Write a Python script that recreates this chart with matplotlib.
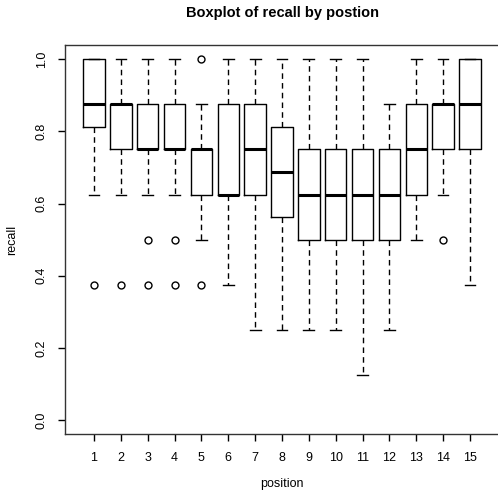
import matplotlib
matplotlib.use("Agg")
import matplotlib.pyplot as plt

plt.rcParams["font.family"] = ["Liberation Sans", "DejaVu Sans"]

positions = list(range(1, 16))
whislo = [0.625, 0.625, 0.625, 0.625, 0.5, 0.375, 0.25, 0.25, 0.25, 0.25, 0.125, 0.25, 0.5, 0.625, 0.375]
q1 = [0.8125, 0.75, 0.75, 0.75, 0.625, 0.625, 0.625, 0.5625, 0.5, 0.5, 0.5, 0.5, 0.625, 0.75, 0.75]
med = [0.875, 0.875, 0.75, 0.75, 0.75, 0.625, 0.75, 0.6875, 0.625, 0.625, 0.625, 0.625, 0.75, 0.875, 0.875]
q3 = [1.0, 0.875, 0.875, 0.875, 0.75, 0.875, 0.875, 0.8125, 0.75, 0.75, 0.75, 0.75, 0.875, 0.875, 1.0]
whishi = [1.0, 1.0, 1.0, 1.0, 0.875, 1.0, 1.0, 1.0, 1.0, 1.0, 1.0, 0.875, 1.0, 1.0, 1.0]
fliers = [[0.375], [0.375], [0.5, 0.375], [0.5, 0.375], [1.0, 0.375],
          [], [], [], [], [], [], [], [], [0.5], []]

stats = []
for i in range(len(positions)):
    stats.append({"whislo": whislo[i], "q1": q1[i], "med": med[i], "q3": q3[i],
                  "whishi": whishi[i], "fliers": fliers[i]})

fig = plt.figure(figsize=(4.98, 4.93), dpi=100)
ax = fig.add_axes([64.5 / 498, (493 - 434.4) / 493, (499.5 - 64.5) / 498, (434.4 - 44.9) / 493])

ax.bxp(stats, positions=positions, widths=0.8, showfliers=True,
       boxprops=dict(color="black", linewidth=1.0),
       medianprops=dict(color="black", linewidth=2.2, solid_capstyle="butt"),
       whiskerprops=dict(color="black", linewidth=1.0, linestyle=(0, (4, 3))),
       capprops=dict(color="black", linewidth=1.0),
       flierprops=dict(marker="o", markerfacecolor="none", markeredgecolor="black",
                       markersize=5, markeredgewidth=1.0),
       capwidths=0.4)

ax.set_xlim(-0.1, 16.1)
ax.set_ylim(-0.04, 1.04)
ax.set_xticks(positions)
ax.set_xticklabels([str(p) for p in positions], fontsize=9)
ax.set_yticks([0.0, 0.2, 0.4, 0.6, 0.8, 1.0])
ax.set_yticklabels(["0.0", "0.2", "0.4", "0.6", "0.8", "1.0"], fontsize=9,
                   rotation=90, va="center")
ax.tick_params(direction="out", length=5, width=1.0, colors="black")
ax.tick_params(axis="x", pad=8)
ax.tick_params(axis="y", pad=7)
for s in ax.spines.values():
    s.set_color("#333333")
    s.set_linewidth(1.0)

ax.set_xlabel("position", fontsize=9, labelpad=10)
ax.set_ylabel("recall", fontsize=9, labelpad=13)
ax.set_title("Boxplot of recall by postion", fontsize=10.5, fontweight="bold", pad=20)

fig.savefig("out.png", dpi=100)
